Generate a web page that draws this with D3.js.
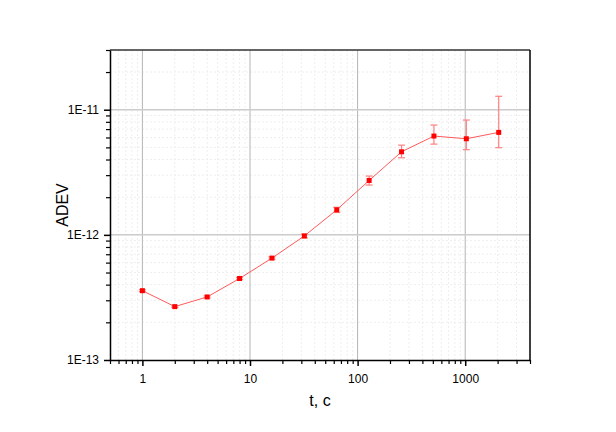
<!DOCTYPE html>
<html><head><meta charset="utf-8">
<script src="https://cdn.jsdelivr.net/npm/d3@7/dist/d3.min.js"></script>
<style>body{margin:0;background:#fff}svg{display:block}text{font-family:"Liberation Sans",Arial,sans-serif}</style>
</head><body><svg id="c" width="616" height="432"></svg>
<script>
const tau = [1, 2, 4, 8, 16, 32, 64, 128, 256, 512, 1024, 2048];
const adev = [3.58e-13, 2.67e-13, 3.19e-13, 4.48e-13, 6.52e-13, 9.8e-13, 1.585e-12, 2.72e-12, 4.61e-12, 6.16e-12, 5.86e-12, 6.59e-12];
const errLow = [3.52e-13, 2.63e-13, 3.13e-13, 4.40e-13, 6.38e-13, 9.45e-13, 1.51e-12, 2.50e-12, 4.13e-12, 5.31e-12, 4.79e-12, 4.97e-12];
const errHigh = [3.64e-13, 2.71e-13, 3.25e-13, 4.56e-13, 6.66e-13, 1.015e-12, 1.66e-12, 2.95e-12, 5.21e-12, 7.54e-12, 8.27e-12, 1.28e-11];
const xTicks = [1, 10, 100, 1000];
const xTickLabels = ["1", "10", "100", "1000"];
const yTicks = [1e-13, 1e-12, 1e-11];
const yTickLabels = ["1E-13", "1E-12", "1E-11"];
const xLabel = "t, c";
const yLabel = "ADEV";

const svg = d3.select("#c");
const L = 110, R = 530, T = 50, B = 360;
const x = d3.scaleLog().domain([0.5, 4000]).range([L, R]);
const y = d3.scaleLog().domain([1e-13, 3e-11]).range([B, T]);

const xMinor = [];
for (let d = 0.1; d < 10000; d *= 10) for (let k = 2; k < 10; k++) { const v = +(k * d).toPrecision(3); if (v >= 0.5 && v <= 4000) xMinor.push(v); }
const yMinor = [];
for (let e = -13; e <= -11; e++) for (let k = 2; k < 10; k++) { const v = k * Math.pow(10, e); if (v <= 3e-11) yMinor.push(v); }

const g = svg.append("g");
g.selectAll(".xm").data(xMinor).enter().append("line")
  .attr("x1", d => x(d)).attr("x2", d => x(d)).attr("y1", T).attr("y2", B)
  .attr("stroke", "#eeeeee").attr("stroke-width", 1).attr("stroke-dasharray", "2,2");
g.selectAll(".ym").data(yMinor).enter().append("line")
  .attr("y1", d => y(d)).attr("y2", d => y(d)).attr("x1", L).attr("x2", R)
  .attr("stroke", "#eeeeee").attr("stroke-width", 1).attr("stroke-dasharray", "2,2");
g.selectAll(".xM").data(xTicks).enter().append("line")
  .attr("x1", d => x(d)).attr("x2", d => x(d)).attr("y1", T).attr("y2", B)
  .attr("stroke", "#b4b4b4").attr("stroke-width", 1);
g.selectAll(".yM").data(yTicks.slice(1)).enter().append("line")
  .attr("y1", d => y(d)).attr("y2", d => y(d)).attr("x1", L).attr("x2", R)
  .attr("stroke", "#cccccc").attr("stroke-width", 1.5);

svg.append("line").attr("x1", L).attr("x2", R).attr("y1", T).attr("y2", T).attr("stroke", "#333").attr("stroke-width", 1.5);
svg.append("line").attr("x1", R).attr("x2", R).attr("y1", T).attr("y2", B).attr("stroke", "#000").attr("stroke-width", 1.5);

const xAxis = d3.axisBottom(x).tickValues(xTicks).tickFormat((d, i) => xTickLabels[i]).tickSize(6).tickSizeOuter(0);
const xa = svg.append("g").attr("transform", `translate(0,${B})`).call(xAxis);
xa.select(".domain").attr("stroke", "#000").attr("stroke-width", 1.5);
xa.selectAll(".tick line").attr("stroke-width", 1.5);
xa.selectAll("text").attr("font-size", 12).attr("font-family", "Liberation Sans, Arial, sans-serif").attr("dy", "1.2em").attr("fill", "#000");
const xMinAxis = d3.axisBottom(x).tickValues(xMinor).tickFormat("").tickSize(4).tickSizeOuter(0);
const xm = svg.append("g").attr("transform", `translate(0,${B})`).call(xMinAxis);
xm.select(".domain").remove();
xm.selectAll(".tick line").attr("stroke-width", 1.2);

const yAxis = d3.axisLeft(y).tickValues(yTicks).tickFormat((d, i) => yTickLabels[i]).tickSize(6).tickSizeOuter(0);
const ya = svg.append("g").attr("transform", `translate(${L},0)`).call(yAxis);
ya.select(".domain").attr("stroke", "#000").attr("stroke-width", 1.5);
ya.selectAll(".tick line").attr("stroke-width", 1.5);
ya.selectAll("text").attr("font-size", 12).attr("font-family", "Liberation Sans, Arial, sans-serif").attr("fill", "#000").attr("x", -11);
const yMinAxis = d3.axisLeft(y).tickValues(yMinor).tickFormat("").tickSize(4).tickSizeOuter(0);
const ym = svg.append("g").attr("transform", `translate(${L},0)`).call(yMinAxis);
ym.select(".domain").remove();
ym.selectAll(".tick line").attr("stroke-width", 1.2);

svg.append("text").attr("x", (L + R) / 2).attr("y", 406).attr("text-anchor", "middle").attr("font-size", 16).text(xLabel);
svg.append("text").attr("transform", `translate(68,${(T + B) / 2}) rotate(-90)`).attr("text-anchor", "middle").attr("font-size", 16).text(yLabel);

const data = tau.map((t, i) => ({ t, v: adev[i], lo: errLow[i], hi: errHigh[i] }));
svg.append("path").datum(data)
  .attr("d", d3.line().x(d => x(d.t)).y(d => y(d.v)))
  .attr("fill", "none").attr("stroke", "#ff5a5a").attr("stroke-width", 1);
const eb = svg.append("g").attr("stroke", "#ff8080").attr("stroke-width", 1.2);
data.forEach(d => {
  eb.append("line").attr("x1", x(d.t)).attr("x2", x(d.t)).attr("y1", y(d.hi)).attr("y2", y(d.lo));
  eb.append("line").attr("x1", x(d.t) - 3.5).attr("x2", x(d.t) + 3.5).attr("y1", y(d.hi)).attr("y2", y(d.hi));
  eb.append("line").attr("x1", x(d.t) - 3.5).attr("x2", x(d.t) + 3.5).attr("y1", y(d.lo)).attr("y2", y(d.lo));
});
svg.selectAll(".pt").data(data).enter().append("rect")
  .attr("x", d => x(d.t) - 2.5).attr("y", d => y(d.v) - 2.5).attr("width", 5).attr("height", 5)
  .attr("fill", "#ff0000");
</script></body></html>
